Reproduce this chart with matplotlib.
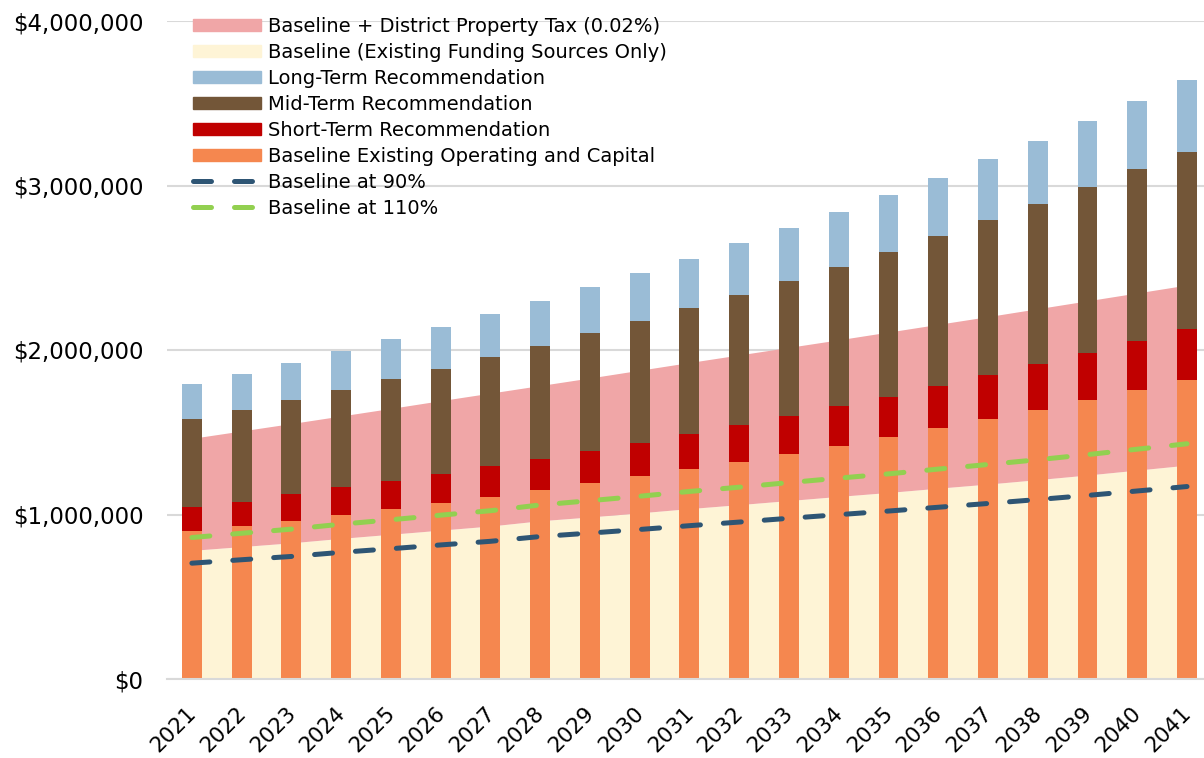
#!/usr/bin/env python3
"""Funding scenarios vs. recommendation costs, 2021-2041."""
from __future__ import annotations

import matplotlib
matplotlib.use("Agg")
import matplotlib.pyplot as plt
import matplotlib.transforms as mtransforms
from matplotlib.patches import Patch
from matplotlib.lines import Line2D
from matplotlib.ticker import FuncFormatter


# ---------------------------------------------------------------------------
# Data (dollars)
# ---------------------------------------------------------------------------

YEARS = list(range(2021, 2042))

# stacked bar segments
EXISTING_OPS_CAPITAL = [
    897_000, 928_000, 960_000, 997_000, 1_033_000, 1_070_000, 1_108_000,
    1_149_000, 1_189_000, 1_232_000, 1_277_000, 1_321_000, 1_368_000,
    1_418_000, 1_469_000, 1_524_000, 1_578_000, 1_635_000, 1_695_000,
    1_754_000, 1_816_000,
]
SHORT_TERM = [
    150_000, 150_000, 163_000, 168_000, 171_000, 178_000, 185_000, 190_000,
    199_000, 205_000, 214_000, 221_000, 233_000, 240_000, 247_000, 255_000,
    268_000, 278_000, 288_000, 298_000, 311_000,
]
MID_TERM = [
    536_000, 559_000, 573_000, 594_000, 618_000, 639_000, 663_000, 687_000,
    713_000, 739_000, 762_000, 792_000, 818_000, 847_000, 882_000, 911_000,
    943_000, 973_000, 1_007_000, 1_047_000, 1_079_000,
]
LONG_TERM = [
    211_000, 217_000, 225_000, 235_000, 245_000, 253_000, 263_000, 272_000,
    280_000, 290_000, 302_000, 314_000, 323_000, 336_000, 344_000, 357_000,
    372_000, 387_000, 402_000, 415_000, 434_000,
]

# area series
BASELINE = [
    782_000, 805_000, 828_000, 855_000, 880_000, 905_000, 930_000, 962_000,
    985_000, 1_010_000, 1_036_000, 1_060_000, 1_085_000, 1_110_000,
    1_134_000, 1_160_000, 1_185_000, 1_212_000, 1_240_000, 1_270_000,
    1_300_000,
]
BASELINE_PLUS_TAX = [
    1_463_000, 1_508_000, 1_553_000, 1_599_000, 1_645_000, 1_692_000,
    1_738_000, 1_784_000, 1_830_000, 1_877_000, 1_924_000, 1_970_000,
    2_016_000, 2_062_000, 2_109_000, 2_156_000, 2_203_000, 2_251_000,
    2_299_000, 2_347_000, 2_395_000,
]

# dashed lines
BASELINE_90 = [
    704_000, 725_000, 745_000, 770_000, 792_000, 815_000, 837_000, 866_000,
    887_000, 909_000, 932_000, 954_000, 977_000, 999_000, 1_021_000,
    1_044_000, 1_067_000, 1_091_000, 1_116_000, 1_143_000, 1_170_000,
]
BASELINE_110 = [
    860_000, 886_000, 911_000, 941_000, 968_000, 996_000, 1_023_000,
    1_058_000, 1_084_000, 1_111_000, 1_140_000, 1_166_000, 1_194_000,
    1_221_000, 1_247_000, 1_276_000, 1_304_000, 1_333_000, 1_364_000,
    1_397_000, 1_430_000,
]

# ---------------------------------------------------------------------------
# Styling
# ---------------------------------------------------------------------------

C_TAX      = "#F0A6A7"
C_BASE     = "#FEF4D6"
C_LONG     = "#9ABCD6"
C_MID      = "#735638"
C_SHORT    = "#C00000"
C_EXISTING = "#F5874F"
C_90       = "#2E5574"
C_110      = "#92D050"
C_GRID     = "#D9D9D9"

FONT = "DejaVu Sans"


def plot(out_path: str) -> None:
    plt.rcParams["font.family"] = FONT
    fig = plt.figure(figsize=(12.04, 7.58), dpi=100)
    ax = fig.add_axes([167 / 1204, 1 - 679 / 758, 1 - 167 / 1204, (679 - 21) / 758])

    x = list(range(len(YEARS)))

    # ---- areas ----
    ax.fill_between(x, 0, BASELINE, color=C_BASE, lw=0, zorder=1)
    ax.fill_between(x, BASELINE, BASELINE_PLUS_TAX, color=C_TAX, lw=0, zorder=1)

    # ---- stacked bars ----
    w = 0.4
    bottom = [0] * len(x)
    for vals, col in ((EXISTING_OPS_CAPITAL, C_EXISTING), (SHORT_TERM, C_SHORT),
                      (MID_TERM, C_MID), (LONG_TERM, C_LONG)):
        ax.bar(x, vals, width=w, bottom=bottom, color=col, lw=0, zorder=2)
        bottom = [b + v for b, v in zip(bottom, vals)]

    # ---- dashed lines ----
    dash = dict(lw=3.6, dashes=(3.6, 4.6), dash_capstyle="round", zorder=4)
    ax.plot(x, BASELINE_90, color=C_90, **dash)
    ax.plot(x, BASELINE_110, color=C_110, **dash)

    # ---- axes ----
    ax.set_xlim(-0.5, 20 + 17 / 49.75)
    ax.set_ylim(0, 4_000_000)
    ax.set_yticks([0, 1_000_000, 2_000_000, 3_000_000, 4_000_000])
    ax.yaxis.set_major_formatter(FuncFormatter(lambda v, _: f"${v:,.0f}"))
    ax.grid(axis="y", color=C_GRID, lw=1.5, zorder=0)
    ax.set_axisbelow(True)
    for sp in ("top", "right", "left"):
        ax.spines[sp].set_visible(False)
    ax.spines["bottom"].set_color(C_GRID)
    ax.spines["bottom"].set_linewidth(1.5)
    ax.tick_params(axis="both", length=0, labelsize=16.5, colors="black")
    ax.tick_params(axis="y", pad=17)

    ax.set_xticks(x)
    ax.set_xticklabels([str(y) for y in YEARS], rotation=45, ha="right",
                       rotation_mode="anchor")
    ax.tick_params(axis="x", pad=17, labelsize=15.5)
    shift = mtransforms.ScaledTranslation(-6 / 100, 0, fig.dpi_scale_trans)
    for lbl in ax.get_xticklabels():
        lbl.set_transform(lbl.get_transform() + shift)

    # ---- legend ----
    handles = [
        Patch(color=C_TAX, label="Baseline + District Property Tax (0.02%)"),
        Patch(color=C_BASE, label="Baseline (Existing Funding Sources Only)"),
        Patch(color=C_LONG, label="Long-Term Recommendation"),
        Patch(color=C_MID, label="Mid-Term Recommendation"),
        Patch(color=C_SHORT, label="Short-Term Recommendation"),
        Patch(color=C_EXISTING, label="Baseline Existing Operating and Capital"),
        Line2D([], [], color=C_90, label="Baseline at 90%", **dash),
        Line2D([], [], color=C_110, label="Baseline at 110%", **dash),
    ]
    fig.legend(
        handles=handles,
        loc="upper left",
        bbox_to_anchor=(193 / 1204, 1 - 17 / 758),
        frameon=False,
        fontsize=14,
        handlelength=3.5,
        handleheight=0.62,
        handletextpad=0.38,
        labelspacing=0.36,
        borderpad=0,
        borderaxespad=0,
    )

    fig.savefig(out_path, dpi=100, facecolor="white")
    plt.close(fig)


def main() -> None:
    plot("out.png")


if __name__ == "__main__":
    main()
